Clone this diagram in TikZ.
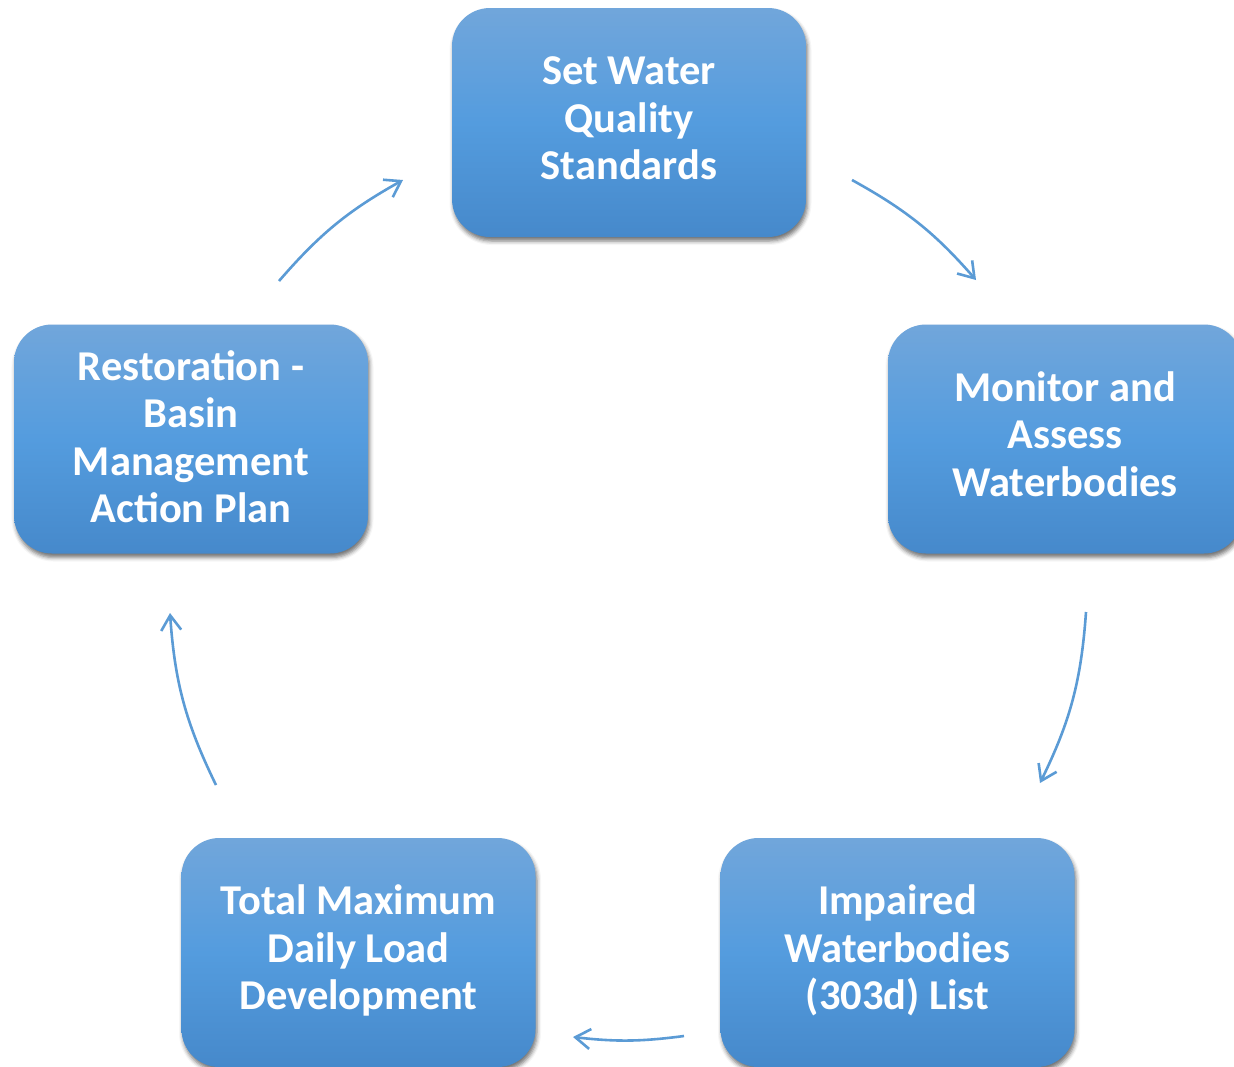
\documentclass[tikz,border=0pt]{standalone}
\usepackage{fontspec}
\setmainfont{Carlito}
\usetikzlibrary{arrows.meta,shadows.blur}
\definecolor{boxtop}{RGB}{113,166,219}
\definecolor{boxmid}{RGB}{84,156,222}
\definecolor{boxbot}{RGB}{70,137,203}
\definecolor{arrowblue}{RGB}{91,155,213}
\newcommand\boxlines[2][0pt]{\raisebox{0pt}[\dimexpr\height+#1\relax][\depth]{\begin{tabular}{@{}c@{}}#2\end{tabular}}}
\begin{document}
\begin{tikzpicture}[x=1pt,y=-1pt,
  stepbox/.style={rectangle, rounded corners=38pt, minimum width=354pt, minimum height=229pt,
    inner sep=0pt, top color=boxtop, bottom color=boxbot, middle color=boxmid, draw=none,
    text=white, font=\fontsize{42.5}{47.5}\selectfont\bfseries,
    blur shadow={shadow xshift=1.5pt, shadow yshift=-4pt, shadow blur radius=4pt, shadow opacity=55}},
  flow/.style={draw=arrowblue, line width=2.6pt, -{Straight Barb[length=15pt,width=20pt]}}]
\useasboundingbox (0,0) rectangle (1234,1066);
\clip (0,0) rectangle (1234,1066);
\node[stepbox] (set) at (629,122.5) {\boxlines{Set Water\\Quality\\Standards}};
\node[stepbox] (mon) at (1065,439) {\boxlines{Monitor and\\Assess\\Waterbodies}};
\node[stepbox] (imp) at (897.5,952.5) {\boxlines{Impaired\\Waterbodies\\(303d) List}};
\node[stepbox] (tmdl) at (358.5,952.5) {\boxlines{Total Maximum\\Daily Load\\Development}};
\node[stepbox] (res) at (191,439) {\boxlines[6pt]{Restoration -\\Basin\\Management\\Action Plan}};
\coordinate (a1s) at (852,180);  \coordinate (a1e) at (976,280);
\coordinate (a2s) at (1086,612); \coordinate (a2e) at (1040,783);
\coordinate (a3s) at (684,1036); \coordinate (a3e) at (573,1037);
\coordinate (a4s) at (216,785);  \coordinate (a4e) at (170,613);
\coordinate (a5s) at (279,281);  \coordinate (a5e) at (403,180);
\draw[flow] (a1s) to[bend left=10] (a1e);
\draw[flow] (a2s) to[bend left=11] (a2e);
\draw[flow] (a3s) to[bend left=7] (a3e);
\draw[flow] (a4s) to[bend left=11] (a4e);
\draw[flow] (a5s) to[bend left=10] (a5e);
\end{tikzpicture}
\end{document}
